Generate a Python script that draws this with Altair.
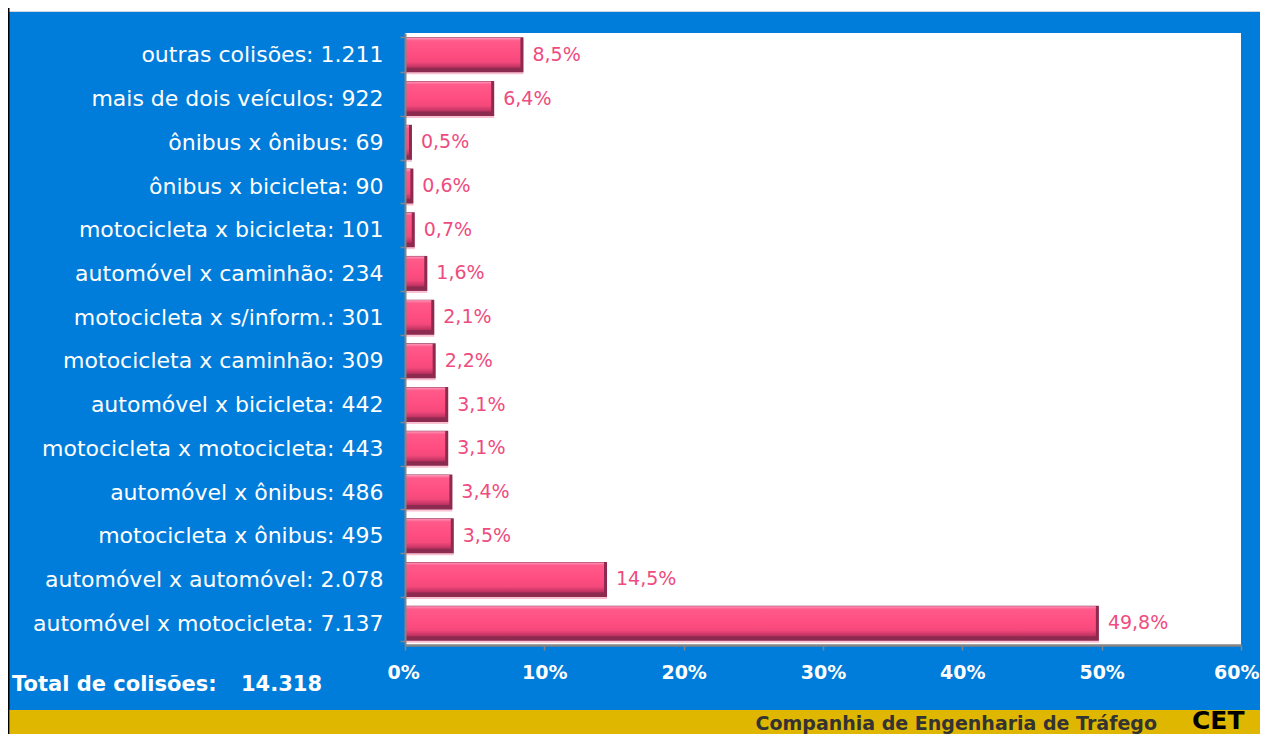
import altair as alt
import pandas as pd

# ---- data ----
categorias = [
    "outras colisões", "mais de dois veículos", "ônibus x ônibus", "ônibus x bicicleta",
    "motocicleta x bicicleta", "automóvel x caminhão", "motocicleta x s/inform.",
    "motocicleta x caminhão", "automóvel x bicicleta", "motocicleta x motocicleta",
    "automóvel x ônibus", "motocicleta x ônibus", "automóvel x automóvel",
    "automóvel x motocicleta",
]
quantidades = [1211, 922, 69, 90, 101, 234, 301, 309, 442, 443, 486, 495, 2078, 7137]
percentuais = [8.5, 6.4, 0.5, 0.6, 0.7, 1.6, 2.1, 2.2, 3.1, 3.1, 3.4, 3.5, 14.5, 49.8]
total_colisoes = 14318
x_ticks = [0, 10, 20, 30, 40, 50, 60]

def br_int(n):
    return f"{n:,}".replace(",", ".")

def br_pct(p):
    return f"{p:.1f}".replace(".", ",") + "%"

rotulos = [f"{c}: {br_int(q)}" for c, q in zip(categorias, quantidades)]
df = pd.DataFrame({
    "rotulo": rotulos,
    "pct": percentuais,
    "pct_txt": [br_pct(p) for p in percentuais],
})

BLUE = "#007DDA"
YELLOW = "#E0B700"
GREY = "#858585"
PINK_TXT = "#EE4C80"
FONT = "DejaVu Sans"

W, H = 836, 612
PAD = {"left": 397, "top": 25, "right": 19, "bottom": 89}

y_enc = alt.Y(
    "rotulo:N", sort=rotulos, title=None,
    scale=alt.Scale(paddingInner=0.2, paddingOuter=0.1),
    axis=alt.Axis(
        labelColor="white", labelFontSize=22, labelFont=FONT, labelPadding=17,
        domainColor=GREY, domainWidth=2, tickColor=GREY, tickWidth=1.5, tickSize=5,
        tickBand="extent", grid=False, zindex=1, labelLimit=500,
    ),
)
x_enc = alt.X(
    "pct:Q", title=None, stack=None,
    scale=alt.Scale(domain=[0, 60], nice=False),
    axis=alt.Axis(
        values=x_ticks, labelExpr="datum.value + '%'", labelColor="white",
        labelFontSize=19, labelFont=FONT, labelFontWeight="bold", labelPadding=13,
        labelFlush=True, labelFlushOffset=18, labelOverlap=False,
        domainColor=GREY, domainWidth=2.5, tickColor=GREY, tickWidth=1.5, tickSize=5,
        grid=False, zindex=1,
    ),
)

base = alt.Chart(df)

shadow = base.mark_bar(size=35, yOffset=2, color="#f8c0d1").encode(
    y=y_enc, x=x_enc, x2=alt.datum(0))
dark = base.mark_bar(size=35, color="#8c2a50").encode(
    y=y_enc, x=x_enc, x2=alt.datum(0))
main = base.mark_bar(
    size=30, yOffset=-2, xOffset=-3, x2Offset=1,
    color=alt.Gradient(
        gradient="linear", x1=0, x2=0, y1=0, y2=1,
        stops=[
            alt.GradientStop(color="#ff9abb", offset=0),
            alt.GradientStop(color="#ff5a8a", offset=0.1),
            alt.GradientStop(color="#ff4d80", offset=0.55),
            alt.GradientStop(color="#f4497c", offset=0.8),
            alt.GradientStop(color="#b8305e", offset=1),
        ],
    ),
).encode(y=y_enc, x=x_enc, x2=alt.datum(0))

pct_text = base.mark_text(
    align="left", baseline="middle", dx=9, fontSize=19, font=FONT, color=PINK_TXT
).encode(y=y_enc, x=x_enc, text="pct_txt:N")

one = alt.Chart(pd.DataFrame({"k": [0]}))
top_white = one.mark_rect(color="white").encode(
    x=alt.value(-PAD["left"]), x2=alt.value(W + PAD["right"]),
    y=alt.value(-PAD["top"]), y2=alt.value(-21.5))
top_line = one.mark_rect(color="#cfd8e0").encode(
    x=alt.value(-PAD["left"]), x2=alt.value(W + PAD["right"]),
    y=alt.value(-22), y2=alt.value(-21))
left_line = one.mark_rect(color="black").encode(
    x=alt.value(-PAD["left"]), x2=alt.value(-PAD["left"] + 1.5),
    y=alt.value(-PAD["top"]), y2=alt.value(H + PAD["bottom"]))
yellow = one.mark_rect(color=YELLOW).encode(
    x=alt.value(-PAD["left"] + 1.5), x2=alt.value(W + PAD["right"]),
    y=alt.value(677), y2=alt.value(H + PAD["bottom"]))

total_lbl = one.mark_text(
    align="left", baseline="middle", fontSize=21, fontWeight="bold", font=FONT, color="white"
).encode(x=alt.value(-393), y=alt.value(652), text=alt.value("Total de colisões:"))
total_val = one.mark_text(
    align="left", baseline="middle", fontSize=21, fontWeight="bold", font=FONT, color="white"
).encode(x=alt.value(-164), y=alt.value(652), text=alt.value(br_int(total_colisoes)))
footer = one.mark_text(
    align="right", baseline="alphabetic", fontSize=19, fontWeight="bold", font=FONT, color="#333333"
).encode(x=alt.value(752), y=alt.value(697), text=alt.value("Companhia de Engenharia de Tráfego"))
logo = one.mark_text(
    align="left", baseline="bottom", fontSize=25, fontWeight=900, font=FONT, color="black"
).encode(x=alt.value(787), y=alt.value(700.5), text=alt.value("CET"))

chart = alt.layer(
    top_white, top_line, left_line, yellow,
    shadow, dark, main, pct_text,
    total_lbl, total_val, footer, logo,
).properties(
    width=W, height=H, padding=PAD,
    autosize=alt.AutoSizeParams(type="none"),
    background=BLUE,
).configure_view(fill="white", stroke=None)

chart.save("out.html", embed_options={"renderer": "svg", "actions": False})
